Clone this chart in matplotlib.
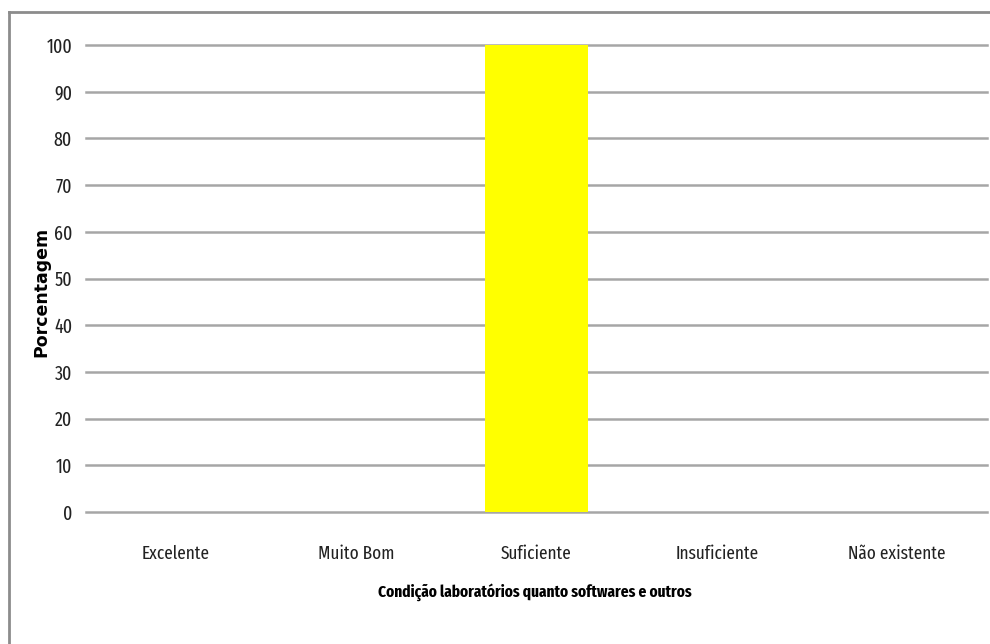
import matplotlib
matplotlib.use("Agg")
import matplotlib.pyplot as plt
from matplotlib.lines import Line2D

categories = ["Excelente", "Muito Bom", "Suficiente", "Insuficiente", "Não existente"]
values = [0, 0, 100, 0, 0]
yticks = [0, 10, 20, 30, 40, 50, 60, 70, 80, 90, 100]

narrow = ["Fira Sans Extra Condensed", "DejaVu Sans"]

W, H = 990, 644
fig = plt.figure(figsize=(W / 100, H / 100), dpi=100)
fig.patch.set_facecolor("white")

x0, x1, y0, y1 = 86, 987, 512, 45
ax = fig.add_axes([x0 / W, (H - y0) / H, (x1 - x0) / W, (y0 - y1) / H])

xs = range(len(categories))
ax.bar(xs, values, width=0.57, color="#ffff00", zorder=3)
ax.set_xlim(-0.5, len(categories) - 0.5)
ax.set_ylim(0, 100)
ax.set_yticks(yticks)
ax.set_xticks(list(xs))
ax.set_xticklabels(categories, fontfamily=narrow, fontsize=13.5, color="#222222")
ax.set_yticklabels([str(v) for v in yticks], fontfamily=narrow, fontsize=14, color="#222222")
ax.tick_params(axis="both", length=0)
ax.tick_params(axis="y", pad=10)
ax.tick_params(axis="x", pad=24)

ax.yaxis.grid(True, color="#a6a6a6", linewidth=1.8, zorder=1)
ax.set_axisbelow(True)
for gl in ax.get_ygridlines():
    gl.set_clip_on(False)
for s in ax.spines.values():
    s.set_visible(False)

fig.text(41 / W, 1 - 292 / H, "Porcentagem", rotation=90, ha="center", va="center",
         fontfamily="DejaVu Sans", fontweight="bold", fontsize=12.5, color="black")
fig.text(535 / W, 1 - 592 / H, "Condição laboratórios quanto softwares e outros",
         ha="center", va="center", fontfamily=narrow, fontweight="bold", fontsize=12,
         color="black")

# chart frame (top and left edges)
fig.add_artist(Line2D([9 / W, 1.0], [1 - 11.5 / H, 1 - 11.5 / H], color="#8c8c8c",
                      linewidth=2, transform=fig.transFigure))
fig.add_artist(Line2D([9 / W, 9 / W], [0, 1 - 11.5 / H], color="#8c8c8c",
                      linewidth=2, transform=fig.transFigure))

fig.savefig("out.png", dpi=100)
